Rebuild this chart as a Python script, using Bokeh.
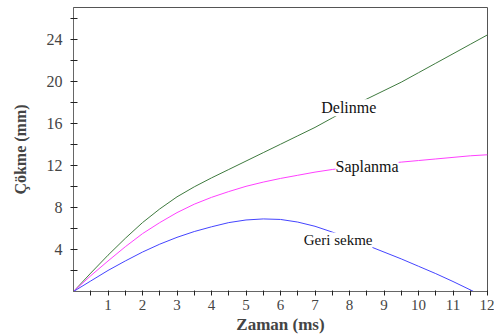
from bokeh.plotting import figure
from bokeh.models import FixedTicker, Label, Range1d
from bokeh.embed import file_html
from bokeh.resources import INLINE

# Data
t = [0, 0.5, 1, 1.5, 2, 2.5, 3, 3.5, 4, 4.5, 5, 5.5, 6, 6.5, 7, 7.5, 8, 8.5, 9, 9.5, 10, 10.5, 11, 11.5, 12]
delinme = [0, 1.75, 3.45, 5.05, 6.55, 7.85, 9.0, 9.95, 10.8, 11.6, 12.4, 13.2, 14.0, 14.8, 15.6, 16.5, 17.4,
           18.3, 19.1, 19.9, 20.8, 21.7, 22.6, 23.5, 24.4]
saplanma = [0, 1.5, 2.9, 4.25, 5.5, 6.55, 7.5, 8.3, 8.95, 9.5, 10.0, 10.4, 10.75, 11.05, 11.35, 11.6, 11.8,
            12.0, 12.15, 12.3, 12.45, 12.6, 12.75, 12.9, 13.0]
t_geri = [0, 0.5, 1, 1.5, 2, 2.5, 3, 3.5, 4, 4.5, 5, 5.5, 6, 6.5, 7, 7.5, 8, 8.5, 9, 9.5, 10, 10.5, 11, 11.6]
geri_sekme = [0, 1.0, 2.0, 2.9, 3.75, 4.5, 5.15, 5.7, 6.15, 6.55, 6.8, 6.9, 6.85, 6.6, 6.2, 5.65, 5.05,
              4.4, 3.75, 3.1, 2.4, 1.7, 0.95, 0]

x_major = [1, 2, 3, 4, 5, 6, 7, 8, 9, 10, 11, 12]
x_minor = [0.5, 1.5, 2.5, 3.5, 4.5, 5.5, 6.5, 7.5, 8.5, 9.5, 10.5, 11.5]
y_major = [4, 8, 12, 16, 20, 24]
y_minor = [2, 6, 10, 14, 18, 22, 26]

FONT = "'Liberation Serif', serif"

p = figure(width=494, height=336, output_backend="svg", toolbar_location=None,
           x_range=Range1d(0, 12), y_range=Range1d(0, 27),
           min_border_left=73, min_border_right=7, min_border_top=7, min_border_bottom=45)

p.line(t, delinme, line_color="#3f7a3f", line_width=1)
p.line(t, saplanma, line_color="#ff40ff", line_width=1)
p.line(t_geri, geri_sekme, line_color="#4444ff", line_width=1)

for txt, x, y, fs in [("Delinme", 7.98, 17.46, "16px"), ("Saplanma", 8.51, 11.9, "16px"),
                      ("Geri sekme", 7.67, 4.86, "15px")]:
    p.add_layout(Label(x=x, y=y, text=txt, text_align="center", text_baseline="middle",
                       text_font=FONT, text_font_size=fs, text_color="#111111",
                       background_fill_color="white"))

p.grid.visible = False
p.outline_line_color = "#555555"
p.outline_line_width = 1
p.background_fill_color = "white"
p.border_fill_color = "white"

xa = p.xaxis[0]
xa.ticker = FixedTicker(ticks=x_major, minor_ticks=x_minor)
xa.axis_label = "Zaman (ms)"
xa.axis_label_text_font = FONT
xa.axis_label_text_font_style = "bold"
xa.axis_label_text_font_size = "17px"
xa.axis_label_standoff = 2
xa.major_label_text_font = FONT
xa.major_label_text_font_size = "15px"
xa.major_label_standoff = 4
xa.major_tick_in = 1
xa.major_tick_out = 4
xa.minor_tick_in = 1
xa.minor_tick_out = 4
xa.axis_line_color = "#666666"
xa.major_tick_line_color = "#222222"
xa.minor_tick_line_color = "#222222"

ya = p.yaxis[0]
ya.ticker = FixedTicker(ticks=y_major, minor_ticks=y_minor)
ya.axis_label = "Çökme (mm)"
ya.axis_label_text_font = FONT
ya.axis_label_text_font_style = "bold"
ya.axis_label_text_font_size = "16px"
ya.axis_label_standoff = 15
ya.major_label_text_font = FONT
ya.major_label_text_font_size = "16px"
ya.major_label_standoff = 8
ya.major_tick_in = 4
ya.major_tick_out = 3
ya.minor_tick_in = 4
ya.minor_tick_out = 3
ya.axis_line_color = "#666666"
ya.major_tick_line_color = "#222222"
ya.minor_tick_line_color = "#222222"

open("out.html", "w").write(file_html(p, INLINE))
